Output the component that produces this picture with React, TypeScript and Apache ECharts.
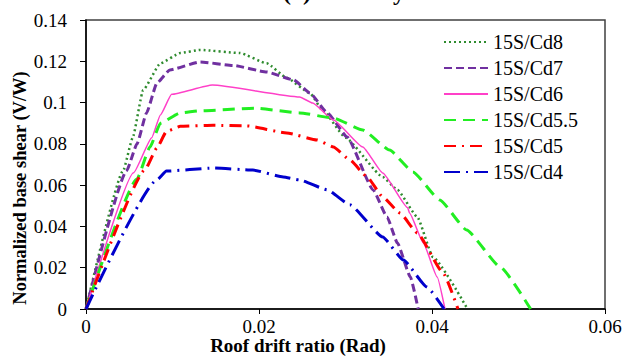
import React, { useEffect, useRef } from "react";
import * as echarts from "echarts";

const seriesNames = ["15S/Cd8", "15S/Cd7", "15S/Cd6", "15S/Cd5.5", "15S/Cd5", "15S/Cd4"];

const cd8X = [0, 0.0043, 0.0054, 0.0066, 0.0086, 0.0109, 0.0132, 0.0178, 0.0209, 0.0232, 0.0259, 0.0274, 0.030, 0.0343, 0.036, 0.0383, 0.0401, 0.0441];
const cd8Y = [0, 0.067, 0.083, 0.106, 0.119, 0.124, 0.1255, 0.124, 0.119, 0.112, 0.1045, 0.096, 0.083, 0.064, 0.0577, 0.0446, 0.0252, 0];

const cd7X = [0, 0.0047, 0.0059, 0.0070, 0.0082, 0.0097, 0.0132, 0.017, 0.0209, 0.024, 0.0259, 0.0279, 0.0302, 0.0332, 0.0348, 0.036, 0.0375, 0.0384];
const cd7Y = [0, 0.067, 0.080, 0.095, 0.1095, 0.1158, 0.1197, 0.118, 0.1148, 0.111, 0.1046, 0.095, 0.0833, 0.0577, 0.0446, 0.032, 0.0155, 0];

const cd6X = [0, 0.0055, 0.0076, 0.0086, 0.0099, 0.0146, 0.0247, 0.0262, 0.0286, 0.032, 0.0343, 0.0372, 0.0374, 0.039, 0.0406, 0.0415];
const cd6Y = [0, 0.066, 0.083, 0.094, 0.104, 0.1085, 0.1027, 0.0998, 0.0916, 0.0785, 0.0659, 0.049, 0.0465, 0.032, 0.0155, 0];

const cd55X = [0, 0.0059, 0.0074, 0.0086, 0.0109, 0.0132, 0.0195, 0.0247, 0.0286, 0.032, 0.0351, 0.0378, 0.0409, 0.044, 0.0479, 0.0514];
const cd55Y = [0, 0.063, 0.0785, 0.09, 0.095, 0.096, 0.0973, 0.095, 0.0925, 0.0867, 0.077, 0.0664, 0.0528, 0.0383, 0.0203, 0];

const cd5X = [0, 0.0068, 0.0082, 0.0093, 0.0109, 0.0147, 0.0186, 0.0232, 0.0267, 0.0286, 0.0305, 0.0325, 0.0343, 0.0363, 0.0383, 0.0413, 0.043];
const cd5Y = [0, 0.0673, 0.078, 0.086, 0.0885, 0.089, 0.0887, 0.0853, 0.0819, 0.0785, 0.0722, 0.064, 0.0543, 0.0465, 0.0368, 0.0174, 0];

const cd4X = [0, 0.0082, 0.0093, 0.0147, 0.0193, 0.0228, 0.0247, 0.0279, 0.0305, 0.0343, 0.0367, 0.0394, 0.0414];
const cd4Y = [0, 0.0625, 0.0668, 0.0683, 0.0673, 0.064, 0.0625, 0.0577, 0.0505, 0.0349, 0.0237, 0.0107, 0];

const xTickLabels = ["0", "0.02", "0.04", "0.06"];
const yTickLabels = ["0", "0.02", "0.04", "0.06", "0.08", "0.1", "0.12", "0.14"];

const FONT = "'Liberation Serif', 'Times New Roman', Tinos, 'DejaVu Serif', serif";

const styles = [
  { color: "#2E8B2E", width: 2.5, type: [2, 3] },
  { color: "#7030A0", width: 3, type: [8, 4] },
  { color: "#FF40C8", width: 1.5, type: "solid" },
  { color: "#22EE22", width: 3, type: [12, 7] },
  { color: "#FF0000", width: 3, type: [12, 6, 2, 6] },
  { color: "#0000CC", width: 3, type: [16, 6, 2, 6] },
];

const zip = (xs: number[], ys: number[]) => xs.map((x, i) => [x, ys[i]]);

export default function App() {
  const ref = useRef<HTMLDivElement>(null);
  useEffect(() => {
    if (!ref.current) return;
    const chart = echarts.init(ref.current, null, { renderer: "svg" });
    const datas = [zip(cd8X, cd8Y), zip(cd7X, cd7Y), zip(cd6X, cd6Y), zip(cd55X, cd55Y), zip(cd5X, cd5Y), zip(cd4X, cd4Y)];
    chart.setOption({
      animation: false,
      backgroundColor: "#ffffff",
      textStyle: { fontFamily: FONT },
      grid: {
        left: 86,
        top: 20,
        right: 20,
        bottom: 47,
        show: true,
        borderColor: "#404040",
        borderWidth: 1.5,
        containLabel: false,
      },
      xAxis: {
        type: "value",
        min: 0,
        max: 0.06,
        interval: 0.02,
        axisLine: { show: true, lineStyle: { color: "#000", width: 1.5 } },
        axisTick: { show: true, inside: false, length: 5, lineStyle: { color: "#000", width: 1 } },
        splitLine: { show: false },
        axisLabel: {
          margin: 8,
          fontFamily: FONT,
          fontSize: 19,
          color: "#000",
          formatter: (v: number) => xTickLabels[Math.round(v / 0.02)] ?? "",
        },
      },
      yAxis: {
        type: "value",
        min: 0,
        max: 0.14,
        interval: 0.02,
        axisLine: { show: true, lineStyle: { color: "#000", width: 1.5 } },
        axisTick: { show: true, inside: false, length: 6, lineStyle: { color: "#000", width: 1 } },
        splitLine: { show: false },
        axisLabel: {
          margin: 19,
          fontFamily: FONT,
          fontSize: 19,
          color: "#000",
          formatter: (v: number) => yTickLabels[Math.round(v / 0.02)] ?? "",
        },
      },
      legend: {
        orient: "vertical",
        left: 443,
        top: 32,
        padding: 0,
        itemWidth: 44,
        itemHeight: 14,
        itemGap: 6,
        itemStyle: { opacity: 0 },
        textStyle: { fontFamily: FONT, fontSize: 20, color: "#000", lineHeight: 20 },
        data: seriesNames,
      },
      graphic: [
        {
          type: "text",
          x: 283,
          y: 4,
          style: {
            text: "(a) 15-Story",
            fontFamily: FONT,
            fontSize: 24,
            fontWeight: "bold",
            fill: "#000",
            textAlign: "left",
            textVerticalAlign: "bottom",
          },
        },
        {
          type: "text",
          x: 20,
          y: 188,
          rotation: Math.PI / 2,
          style: {
            text: "Normalized base shear (V/W)",
            fontFamily: FONT,
            fontSize: 18.5,
            fontWeight: "bold",
            fill: "#000",
            textAlign: "center",
            textVerticalAlign: "middle",
          },
        },
        {
          type: "text",
          x: 298,
          y: 345.5,
          style: {
            text: "Roof drift ratio (Rad)",
            fontFamily: FONT,
            fontSize: 19,
            fontWeight: "bold",
            fill: "#000",
            textAlign: "center",
            textVerticalAlign: "middle",
          },
        },
      ],
      series: seriesNames.map((name, i) => ({
        name,
        type: "line",
        data: datas[i],
        symbol: "none",
        smooth: 0.15,
        smoothMonotone: "x",
        color: styles[i].color,
        lineStyle: { color: styles[i].color, width: styles[i].width, type: styles[i].type as any },
      })),
    });
    return () => chart.dispose();
  }, []);
  return <div ref={ref} style={{ width: 625, height: 356, position: "absolute", left: 0, top: 0 }} />;
}
